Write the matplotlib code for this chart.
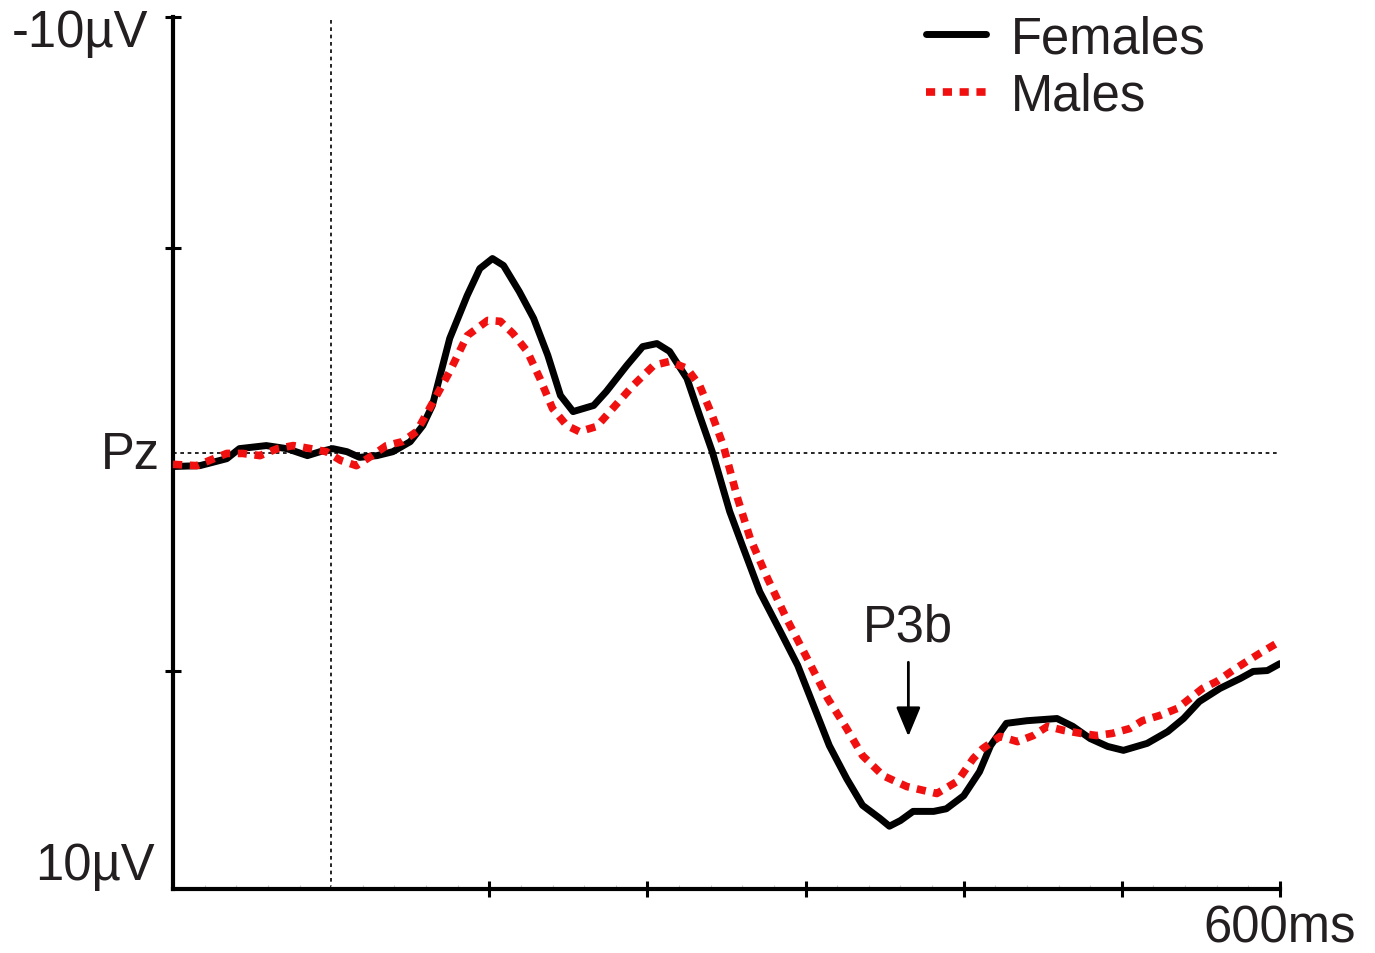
import matplotlib
matplotlib.use("Agg")
import matplotlib.pyplot as plt
from matplotlib.ticker import MultipleLocator, FixedLocator
import numpy as np

# ---- data (time in ms, amplitude in microvolts; negative plotted upward) ----
t_fem = [-100, -83, -66, -58, -41, -28, -15, -7, 1, 10, 18, 29, 39, 50, 58, 64, 75, 86, 94,
         102, 109, 119, 128, 137, 145, 153, 166, 174, 187, 197, 206, 214, 225, 233, 241, 252,
         260, 271, 284, 295, 305, 315, 326, 336, 347, 353, 360, 368, 381, 389, 400, 410, 417,
         427, 440, 459, 469, 480, 491, 501, 516, 529, 539, 549, 562, 575, 583, 592, 600]
v_fem = [0.31, 0.29, 0.13, -0.10, -0.17, -0.10, 0.06, -0.03, -0.10, -0.03, 0.10, 0.06, -0.03,
         -0.26, -0.63, -1.09, -2.63, -3.61, -4.23, -4.46, -4.30, -3.70, -3.09, -2.24, -1.32,
         -0.95, -1.09, -1.41, -2.01, -2.44, -2.51, -2.33, -1.71, -0.86, -0.03, 1.34, 2.12,
         3.18, 4.09, 4.87, 5.79, 6.71, 7.47, 8.08, 8.38, 8.56, 8.43, 8.22, 8.22, 8.16, 7.86,
         7.31, 6.71, 6.20, 6.14, 6.09, 6.27, 6.55, 6.73, 6.82, 6.66, 6.39, 6.09, 5.70, 5.40,
         5.17, 5.01, 4.99, 4.83]

t_mal = [-100, -85, -66, -56, -45, -34, -24, -13, -3, 6, 16, 25, 35, 45, 54, 64, 75, 86, 99,
         107, 115, 124, 132, 140, 149, 157, 168, 178, 191, 204, 214, 225, 233, 241, 248, 257,
         265, 276, 288, 301, 314, 326, 336, 349, 364, 383, 396, 406, 412, 423, 434, 444, 453,
         463, 474, 484, 494, 505, 513, 524, 535, 543, 551, 560, 570, 579, 587, 600]
v_mal = [0.26, 0.29, 0.01, 0.01, 0.06, -0.10, -0.17, -0.10, -0.03, 0.17, 0.29, 0.08, -0.17,
         -0.26, -0.49, -1.14, -1.87, -2.69, -3.04, -3.02, -2.74, -2.33, -1.71, -1.02, -0.63,
         -0.49, -0.61, -1.02, -1.55, -2.01, -2.10, -1.94, -1.55, -0.86, -0.17, 1.04, 1.96,
         2.88, 3.80, 4.71, 5.63, 6.32, 6.94, 7.40, 7.65, 7.81, 7.53, 7.01, 6.78, 6.50, 6.62,
         6.48, 6.27, 6.36, 6.43, 6.48, 6.43, 6.32, 6.14, 6.02, 5.86, 5.63, 5.40, 5.24, 4.99,
         4.78, 4.60, 4.32]

series_labels = ["Females", "Males"]
x_major_ticks = [100, 200, 300, 400, 500, 600]
y_major_ticks = [-10, -4.7, 5]
p3b_latency = 365
p3b_tip = 6.5
p3b_tail = 4.8

TXT = "#231f20"
FONT = "Liberation Sans"
FS = 36.5

W, H = 1375, 954
fig = plt.figure(figsize=(W / 100, H / 100), dpi=100)
ax = fig.add_axes([173 / W, 1 - 890 / H, (1280 - 173) / W, (890 - 18) / H])
ax.set_xlim(-100, 600)
ax.set_ylim(10, -10)

# reference lines
ax.axhline(0, color="black", lw=1.2, ls=(0, (2.2, 2.2)), zorder=1)
ax.axvline(0, color="black", lw=1.2, ls=(0, (2.2, 2.2)), zorder=1)

l_f, = ax.plot(t_fem, v_fem, color="black", lw=5.0, solid_capstyle="round",
               solid_joinstyle="round", label=series_labels[0], zorder=3)
l_m, = ax.plot(t_mal, v_mal, color="#f01010", lw=5.5, ls=(0, (1.2, 1.0)),
               dash_capstyle="butt", label=series_labels[1], zorder=4)

# spines / ticks
for s in ["top", "right"]:
    ax.spines[s].set_visible(False)
for s in ["left", "bottom"]:
    ax.spines[s].set_linewidth(3.0)
ax.xaxis.set_major_locator(FixedLocator(x_major_ticks))
ax.yaxis.set_major_locator(FixedLocator(y_major_ticks))
ax.xaxis.set_minor_locator(MultipleLocator(20))
ax.tick_params(axis="both", which="major", direction="inout", length=12, width=2.2,
               labelbottom=False, labelleft=False)
ax.tick_params(axis="x", which="minor", direction="in", length=3, width=0.8, color="#c8c8c8")
ax.tick_params(axis="y", which="minor", left=False)

# axis text
def ftxt(x, y, s, ha="right", va="center"):
    fig.text(x / W, 1 - y / H, s, ha=ha, va=va, fontsize=FS, color=TXT, family=FONT)

ftxt(148, 33, "-10µV")
ftxt(155, 867, "10µV")
ftxt(160, 456, "Pz")
ftxt(1356, 929, "600ms")

# P3b annotation
ax.annotate("", xy=(p3b_latency, p3b_tip), xytext=(p3b_latency, p3b_tail),
            arrowprops=dict(arrowstyle="-|>,head_length=1.8,head_width=0.75",
                            color="black", lw=2.0, shrinkA=0, shrinkB=0))
ax.text(p3b_latency, 3.98, "P3b", ha="center", va="center", fontsize=FS, color=TXT,
        family=FONT)

leg = ax.legend(handles=[l_f, l_m], loc="upper left",
                bbox_to_anchor=(926 / W, 1 - 15 / H), bbox_transform=fig.transFigure,
                frameon=False, prop=dict(family=FONT, size=FS), handlelength=1.18,
                handletextpad=0.5, labelspacing=0.17, borderpad=0, borderaxespad=0)
for t in leg.get_texts():
    t.set_color(TXT)

fig.savefig("out.png", dpi=100)
